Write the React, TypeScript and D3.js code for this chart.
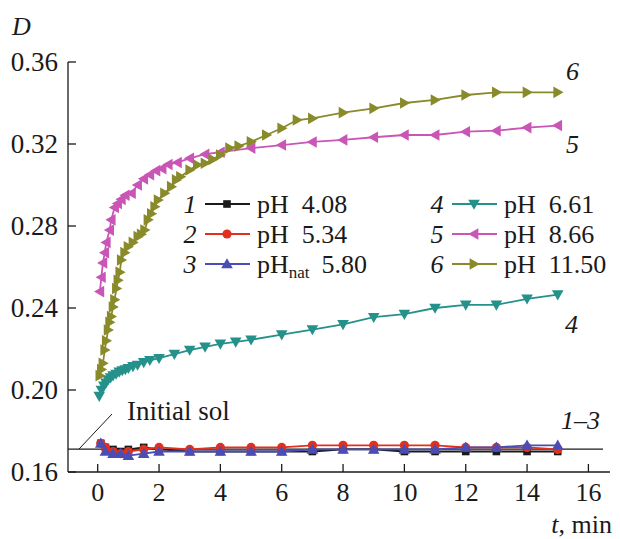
import React from "react";
import * as d3 from "d3";

// Time grids (min) and optical density D for each pH series
const tLow = [0.1, 0.25, 0.5, 0.75, 1, 1.5, 2, 3, 4, 5, 6, 7, 8, 9, 10, 11, 12, 13, 14, 15];
const d1 = [0.174, 0.172, 0.171, 0.170, 0.171, 0.172, 0.171, 0.170, 0.170, 0.170, 0.170, 0.170, 0.171, 0.171, 0.170, 0.170, 0.170, 0.170, 0.170, 0.170];
const d2 = [0.174, 0.172, 0.170, 0.169, 0.170, 0.171, 0.172, 0.171, 0.172, 0.172, 0.172, 0.173, 0.173, 0.173, 0.173, 0.173, 0.172, 0.172, 0.172, 0.171];
const d3v = [0.174, 0.170, 0.169, 0.169, 0.168, 0.169, 0.170, 0.170, 0.170, 0.170, 0.170, 0.171, 0.171, 0.171, 0.171, 0.171, 0.172, 0.172, 0.173, 0.173];

const t4 = [0.05, 0.12, 0.2, 0.27, 0.34, 0.42, 0.5, 0.6, 0.7, 0.8, 0.9, 1.0, 1.15, 1.3, 1.5, 1.7, 2.0, 2.5, 3, 3.5, 4, 4.5, 5, 6, 7, 8, 9, 10, 11, 12, 13, 14, 15];
const d4 = [0.197, 0.2, 0.202, 0.2035, 0.205, 0.206, 0.207, 0.2078, 0.2088, 0.2095, 0.21, 0.2106, 0.2115, 0.2122, 0.2135, 0.2145, 0.2155, 0.2175, 0.2195, 0.221, 0.2225, 0.2235, 0.2245, 0.227, 0.2295, 0.232, 0.2355, 0.237, 0.24, 0.2415, 0.2415, 0.2445, 0.2465];

const t5 = [0.07, 0.12, 0.17, 0.23, 0.28, 0.39, 0.44, 0.55, 0.65, 0.77, 0.9, 1.1, 1.3, 1.5, 1.7, 1.9, 2.1, 2.3, 2.6, 3.0, 3.5, 4, 5, 6, 7, 8, 9, 10, 11, 12, 13, 14, 15];
const d5 = [0.248, 0.255, 0.262, 0.267, 0.272, 0.278, 0.283, 0.289, 0.291, 0.293, 0.295, 0.296, 0.300, 0.303, 0.305, 0.307, 0.308, 0.310, 0.311, 0.313, 0.315, 0.316, 0.318, 0.3195, 0.321, 0.322, 0.3233, 0.3244, 0.3244, 0.326, 0.3265, 0.328, 0.329];

const t6 = [0.07, 0.12, 0.17, 0.23, 0.28, 0.34, 0.39, 0.44, 0.5, 0.55, 0.61, 0.66, 0.72, 0.77, 0.88, 0.99, 1.15, 1.31, 1.42, 1.53, 1.64, 1.75, 1.86, 1.97, 2.18, 2.4, 2.56, 2.7, 3.0, 3.25, 3.5, 3.75, 4.0, 4.3, 4.6, 5, 5.5, 6, 6.5, 7, 8, 9, 10, 11, 12, 13, 14, 15];
const d6 = [0.207, 0.21, 0.213, 0.2195, 0.224, 0.2293, 0.233, 0.2358, 0.2405, 0.244, 0.2495, 0.2535, 0.2575, 0.2634, 0.267, 0.2699, 0.272, 0.2748, 0.276, 0.278, 0.283, 0.286, 0.2894, 0.2927, 0.296, 0.2992, 0.3025, 0.304, 0.3073, 0.3098, 0.3106, 0.3125, 0.3146, 0.318, 0.319, 0.3211, 0.3244, 0.3277, 0.3317, 0.3325, 0.3353, 0.3374, 0.34, 0.3415, 0.3439, 0.3452, 0.3452, 0.3452];

const initialSol = 0.1712;

const xTicks = [0, 2, 4, 6, 8, 10, 12, 14, 16];
const yTicks = [0.16, 0.2, 0.24, 0.28, 0.32, 0.36];

const seriesNums = ["1", "2", "3", "4", "5", "6"];
const seriesPH = ["4.08", "5.34", "5.80", "6.61", "8.66", "11.50"];

type Marker = "square" | "circle" | "up" | "down" | "left" | "right";

const series: { t: number[]; d: number[]; color: string; marker: Marker }[] = [
  { t: tLow, d: d1, color: "#1a1a1a", marker: "square" },
  { t: tLow, d: d2, color: "#e2301f", marker: "circle" },
  { t: tLow, d: d3v, color: "#4a4db4", marker: "up" },
  { t: t4, d: d4, color: "#24918a", marker: "down" },
  { t: t5, d: d5, color: "#c956b6", marker: "left" },
  { t: t6, d: d6, color: "#898a2a", marker: "right" },
];

const FONT = '"Liberation Serif", "Times New Roman", serif';
const INK = "#1a1a1a";

function markerPath(m: Marker, cx: number, cy: number): string {
  const s = 5.8;
  switch (m) {
    case "up":
      return `M${cx},${cy - s}L${cx + s},${cy + s * 0.75}L${cx - s},${cy + s * 0.75}Z`;
    case "down":
      return `M${cx},${cy + s}L${cx + s},${cy - s * 0.75}L${cx - s},${cy - s * 0.75}Z`;
    case "left":
      return `M${cx - s},${cy}L${cx + s * 0.75},${cy - s}L${cx + s * 0.75},${cy + s}Z`;
    case "right":
      return `M${cx + s},${cy}L${cx - s * 0.75},${cy - s}L${cx - s * 0.75},${cy + s}Z`;
    default:
      return "";
  }
}

function MarkerShape({ m, cx, cy, color }: { m: Marker; cx: number; cy: number; color: string }) {
  if (m === "square") return <rect x={cx - 3.8} y={cy - 3.8} width={7.6} height={7.6} fill={color} />;
  if (m === "circle") return <circle cx={cx} cy={cy} r={4.6} fill={color} />;
  return <path d={markerPath(m, cx, cy)} fill={color} />;
}

function T(props: any) {
  const { size = 26, italic = false, style, children, ...rest } = props;
  return (
    <text
      {...rest}
      fill={INK}
      style={{ fontFamily: FONT, fontSize: size, fontStyle: italic ? "italic" : "normal", ...style }}
    >
      {children}
    </text>
  );
}

export default function App() {
  const x = d3.scaleLinear().domain([0, 16]).range([97.7, 588.4]);
  const y = d3.scaleLinear().domain([0.16, 0.36]).range([472, 62]);
  const line = d3
    .line<[number, number]>()
    .x((p) => x(p[0]))
    .y((p) => y(p[1]));

  const x0 = 68;
  const xEnd = 610;
  const yBase = y(0.16);

  const legendRows = [0, 1, 2, 3, 4, 5].map((i) => {
    const col = i < 3 ? 0 : 1;
    const row = i % 3;
    const cy = 204 + row * 30;
    const base = col === 0 ? 190 : 437;
    return { i, cy, base };
  });

  return (
    <svg width={620} height={539} style={{ position: "absolute", left: 0, top: 0, background: "#fff" }}>
      {/* axes */}
      <line x1={x0} y1={yBase} x2={xEnd} y2={yBase} stroke={INK} strokeWidth={1.3} />
      <line x1={x0} y1={yBase} x2={x0} y2={y(0.36)} stroke={INK} strokeWidth={1.3} />
      {xTicks.map((v) => (
        <g key={"xt" + v}>
          <line x1={x(v)} x2={x(v)} y1={yBase} y2={yBase - 8} stroke={INK} strokeWidth={1.3} />
          <T x={x(v)} y={yBase + 29} textAnchor="middle">
            {v}
          </T>
        </g>
      ))}
      {yTicks.map((v) => (
        <g key={"yt" + v}>
          <line x1={x0} x2={x0 + 8} y1={y(v)} y2={y(v)} stroke={INK} strokeWidth={1.3} />
          <T x={58} y={y(v) + 9} size={27} textAnchor="end">
            {v.toFixed(2)}
          </T>
        </g>
      ))}
      <T x={12} y={35} italic>D</T>
      <T x={612} y={533} textAnchor="end">
        <tspan style={{ fontStyle: "italic" }}>t</tspan>, min
      </T>

      {/* initial sol reference line */}
      <line x1={x0} y1={y(initialSol)} x2={603} y2={y(initialSol)} stroke={INK} strokeWidth={1.3} />
      <line x1={79} y1={y(initialSol)} x2={112} y2={414} stroke={INK} strokeWidth={1} />
      <T x={127} y={420} size={27}>Initial sol</T>

      {/* series */}
      {series.map((s, k) => {
        const pts = s.t.map((t, j) => [t, s.d[j]] as [number, number]);
        return (
          <g key={"s" + k}>
            <path d={line(pts) || ""} fill="none" stroke={s.color} strokeWidth={1.8} />
            {pts.map((p, j) => (
              <MarkerShape key={j} m={s.marker} cx={x(p[0])} cy={y(p[1])} color={s.color} />
            ))}
          </g>
        );
      })}

      {/* curve labels */}
      <T x={566} y={80} italic>6</T>
      <T x={566} y={153} italic>5</T>
      <T x={565} y={333} italic>4</T>
      <T x={561} y={429} italic>1–3</T>

      {/* legend */}
      {legendRows.map(({ i, cy, base }) => {
        const s = series[i];
        return (
          <g key={"lg" + i}>
            <T x={base} y={cy + 9} italic textAnchor="middle">
              {seriesNums[i]}
            </T>
            <line x1={base + 15} x2={base + 60} y1={cy} y2={cy} stroke={s.color} strokeWidth={1.8} />
            <MarkerShape m={s.marker} cx={base + 37} cy={cy} color={s.color} />
            {i === 2 ? (
              <T x={base + 67} y={cy + 9}>
                pH<tspan style={{ fontSize: 17 }} dy={5}>nat</tspan>
                <tspan dy={-5} dx={12}>{seriesPH[i]}</tspan>
              </T>
            ) : (
              <T x={base + 67} y={cy + 9} xmlSpace="preserve">
                pH  {seriesPH[i]}
              </T>
            )}
          </g>
        );
      })}
    </svg>
  );
}
